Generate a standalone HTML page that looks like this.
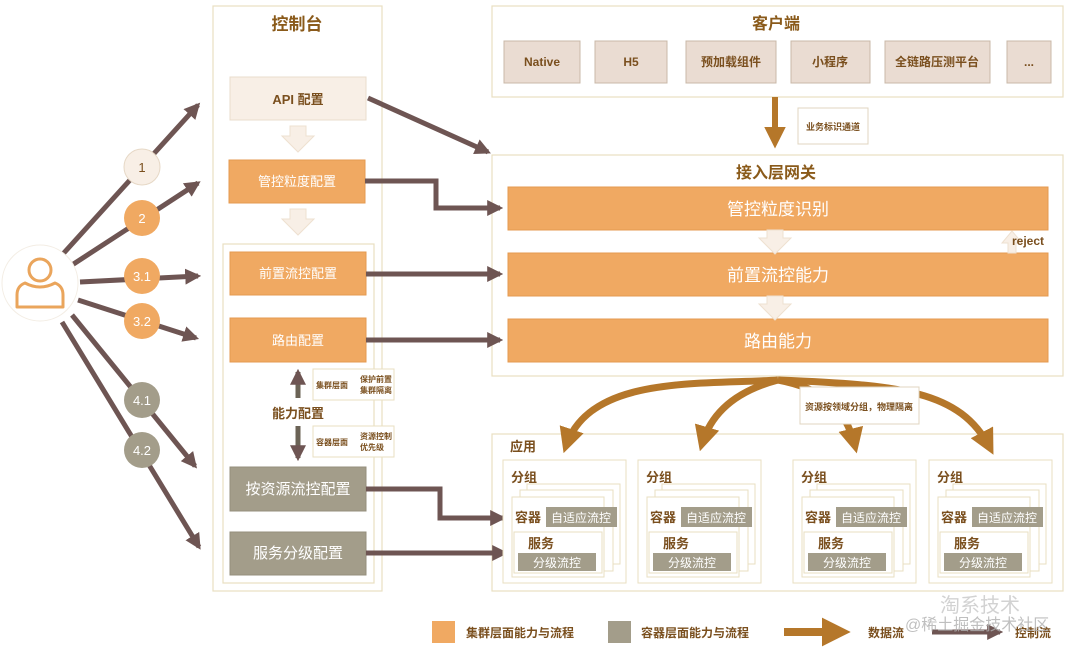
<!DOCTYPE html>
<html><head><meta charset="utf-8"><style>
html,body{margin:0;padding:0;background:#fff;}
svg{display:block;font-family:"Liberation Sans","Noto Sans CJK SC",sans-serif;}
</style></head><body>
<svg width="1080" height="652" viewBox="0 0 1080 652" xmlns="http://www.w3.org/2000/svg">
<defs>
<marker id="ab" viewBox="0 0 10 10" refX="8" refY="5" markerWidth="3.2" markerHeight="3.2" orient="auto"><path d="M0,0 L10,5 L0,10 Z" fill="#6e5553"/></marker>
<marker id="ad" viewBox="0 0 10 10" refX="7" refY="5" markerWidth="3.6" markerHeight="3.6" orient="auto"><path d="M0,0 L10,5 L0,10 Z" fill="#b5772a"/></marker>
</defs>
<g fill="none" stroke="#e8dfc2" stroke-width="1.2">
<rect x="213" y="6" width="169" height="585"/>
<rect x="223" y="244" width="151" height="339"/>
<rect x="492" y="6" width="571" height="91"/>
<rect x="492" y="155" width="571" height="221"/>
<rect x="492" y="434" width="571" height="157"/>
</g>
<g font-weight="bold" fill="#8a5a1a" text-anchor="middle">
<text x="297" y="30" font-size="17">控制台</text>
<text x="776" y="29" font-size="16">客户端</text>
<text x="776" y="178" font-size="16">接入层网关</text>
</g>
<g fill="#eadcd2" stroke="#c9b8a8">
<rect x="504" y="41" width="76" height="42"/><rect x="595" y="41" width="72" height="42"/><rect x="686" y="41" width="90" height="42"/><rect x="791" y="41" width="79" height="42"/><rect x="885" y="41" width="105" height="42"/><rect x="1007" y="41" width="44" height="42"/>
</g>
<g font-size="12" font-weight="bold" fill="#7a4f1e" text-anchor="middle">
<text x="542" y="66">Native</text><text x="631" y="66">H5</text><text x="731" y="66">预加载组件</text><text x="830" y="66">小程序</text><text x="937" y="66">全链路压测平台</text><text x="1029" y="66">...</text>
</g>
<line x1="775" y1="97" x2="775" y2="142" stroke="#b5772a" stroke-width="6" marker-end="url(#ad)"/>
<rect x="798" y="108" width="70" height="36" fill="#fff" stroke="#e0d6c0"/>
<text x="833" y="130" font-size="9" fill="#7a4f1e" text-anchor="middle" font-weight="bold">业务标识通道</text>
<g fill="#f0a962" stroke="#e49a50">
<rect x="508" y="187" width="540" height="43"/><rect x="508" y="253" width="540" height="43"/><rect x="508" y="319" width="540" height="43"/>
</g>
<g fill="#f8efe6" stroke="#eee0d0">
<path d="M767,230 h16 v8 h8 l-16,16 l-16,-16 h8 z"/>
<path d="M767,296 h16 v8 h8 l-16,16 l-16,-16 h8 z"/>
<path d="M1008,253 v-10 h-6 l10,-12 l10,12 h-6 v10 z"/>
</g>
<text x="1028" y="245" font-size="12" font-weight="bold" fill="#7a4f1e" text-anchor="middle">reject</text>
<g font-size="17" fill="#fff" text-anchor="middle">
<text x="778" y="215">管控粒度识别</text><text x="778" y="281">前置流控能力</text><text x="778" y="347">路由能力</text>
</g>
<rect x="230" y="77" width="136" height="43" fill="#f8efe6" stroke="#eadccc"/>
<text x="298" y="104" font-size="13" font-weight="bold" fill="#7a4f1e" text-anchor="middle">API 配置</text>
<g fill="#f8efe6" stroke="#eee0d0">
<path d="M290,126 h16 v10 h8 l-16,16 l-16,-16 h8 z"/>
<path d="M290,209 h16 v10 h8 l-16,16 l-16,-16 h8 z"/>
</g>
<g fill="#f0a962" stroke="#e49a50">
<rect x="229" y="160" width="136" height="43"/><rect x="230" y="252" width="136" height="43"/><rect x="230" y="318" width="136" height="44"/>
</g>
<g fill="#a39d8a" stroke="#958f7c">
<rect x="230" y="467" width="136" height="44"/><rect x="230" y="532" width="136" height="43"/>
</g>
<g font-size="13" fill="#fff" text-anchor="middle">
<text x="297" y="186">管控粒度配置</text><text x="298" y="278">前置流控配置</text><text x="298" y="345">路由配置</text>
<text x="298" y="494" font-size="15">按资源流控配置</text><text x="298" y="558" font-size="15">服务分级配置</text>
</g>
<line x1="298" y1="398" x2="298" y2="372" stroke="#6b6356" stroke-width="5" marker-end="url(#ab)"/>
<line x1="298" y1="426" x2="298" y2="458" stroke="#6b6356" stroke-width="5" marker-end="url(#ab)"/>
<text x="298" y="418" font-size="13" font-weight="bold" fill="#7a4f1e" text-anchor="middle">能力配置</text>
<rect x="313" y="369" width="81" height="31" fill="#fff" stroke="#e8dfc2"/>
<rect x="313" y="426" width="81" height="31" fill="#fff" stroke="#e8dfc2"/>
<g font-size="8" font-weight="bold" fill="#7a4f1e">
<text x="316" y="388">集群层面</text><text x="360" y="382">保护前置</text><text x="360" y="393">集群隔离</text>
<text x="316" y="445">容器层面</text><text x="360" y="439">资源控制</text><text x="360" y="450">优先级</text>
</g>
<g fill="none" stroke="#6e5553" stroke-width="5" marker-end="url(#ab)">
<line x1="368" y1="98" x2="488" y2="152"/>
<path d="M365,181 H436 V208 H500"/>
<line x1="366" y1="274" x2="500" y2="274"/>
<line x1="366" y1="340" x2="500" y2="340"/>
<path d="M366,489 H440 V518 H503"/>
<line x1="366" y1="553" x2="505" y2="553"/>
<line x1="62" y1="255" x2="198" y2="105"/>
<line x1="72" y1="265" x2="198" y2="183"/>
<line x1="80" y1="282" x2="198" y2="276"/>
<line x1="78" y1="300" x2="196" y2="338"/>
<line x1="72" y1="315" x2="195" y2="466"/>
<line x1="62" y1="322" x2="199" y2="547"/>
</g>
<circle cx="40" cy="283" r="38" fill="#fff" stroke="#f3ede4"/>
<circle cx="40" cy="270" r="11" fill="none" stroke="#eaa55c" stroke-width="3"/>
<path d="M25,283 q15,8 30,0 q8,3 8,12 v12 h-46 v-12 q0,-9 8,-12 z" fill="none" stroke="#eaa55c" stroke-width="3" stroke-linejoin="round"/>
<g font-size="13" text-anchor="middle">
<circle cx="142" cy="167" r="18" fill="#f8efe6" stroke="#e6d8c6"/><text x="142" y="172" fill="#7a4f1e">1</text>
<circle cx="142" cy="218" r="18" fill="#f0a962"/><text x="142" y="223" fill="#fff">2</text>
<circle cx="142" cy="276" r="18" fill="#f0a962"/><text x="142" y="281" fill="#fff">3.1</text>
<circle cx="142" cy="321" r="18" fill="#f0a962"/><text x="142" y="326" fill="#fff">3.2</text>
<circle cx="142" cy="400" r="18" fill="#a39d8a"/><text x="142" y="405" fill="#fff">4.1</text>
<circle cx="142" cy="450" r="18" fill="#a39d8a"/><text x="142" y="455" fill="#fff">4.2</text>
</g>
<text x="510" y="451" font-size="13" font-weight="bold" fill="#7a4f1e">应用</text>
<g id="grp">
<rect x="503" y="460" width="123" height="123" fill="#fff" stroke="#e8dfc2"/>
<text x="511" y="482" font-size="13" font-weight="bold" fill="#7a4f1e">分组</text>
<rect x="527" y="484" width="93" height="80" fill="#fff" stroke="#e8dfc2"/>
<rect x="520" y="490" width="93" height="81" fill="#fff" stroke="#e8dfc2"/>
<rect x="512" y="497" width="92" height="80" fill="#fff" stroke="#e8dfc2"/>
<text x="515" y="522" font-size="13" font-weight="bold" fill="#7a4f1e">容器</text>
<rect x="546" y="507" width="71" height="20" fill="#a39d8a"/>
<text x="581" y="522" font-size="12" fill="#fff" text-anchor="middle">自适应流控</text>
<rect x="514" y="532" width="88" height="41" fill="#fff" stroke="#e8dfc2"/>
<text x="528" y="548" font-size="13" font-weight="bold" fill="#7a4f1e">服务</text>
<rect x="518" y="553" width="78" height="18" fill="#a39d8a"/>
<text x="557" y="567" font-size="12" fill="#fff" text-anchor="middle">分级流控</text>
</g>
<use href="#grp" x="135"/><use href="#grp" x="290"/><use href="#grp" x="426"/>
<g fill="none" stroke="#b5772a" stroke-width="7" marker-end="url(#ad)">
<path d="M778,380 C700,385 590,375 566,446"/>
<path d="M778,380 C740,390 712,410 702,444"/>
<path d="M778,380 C820,388 845,405 855,446"/>
<path d="M778,380 C900,385 960,390 990,448"/>
</g>
<rect x="800" y="387" width="119" height="37" fill="#fff" stroke="#e0d6c0"/>
<text x="859" y="410" font-size="9" font-weight="bold" fill="#7a4f1e" text-anchor="middle">资源按领域分组，物理隔离</text>
<rect x="432" y="621" width="23" height="22" fill="#f0a962"/>
<text x="466" y="637" font-size="12" font-weight="bold" fill="#7a4f1e">集群层面能力与流程</text>
<rect x="608" y="621" width="23" height="22" fill="#a39d8a"/>
<text x="641" y="637" font-size="12" font-weight="bold" fill="#7a4f1e">容器层面能力与流程</text>
<line x1="784" y1="632" x2="842" y2="632" stroke="#b5772a" stroke-width="8" marker-end="url(#ad)"/>
<text x="868" y="637" font-size="12" font-weight="bold" fill="#7a4f1e">数据流</text>
<line x1="932" y1="632" x2="1000" y2="632" stroke="#6e5553" stroke-width="5" marker-end="url(#ab)"/>
<text x="1015" y="637" font-size="12" font-weight="bold" fill="#7a4f1e">控制流</text>
<text x="940" y="612" font-size="20" fill="#c8c8c8" opacity="0.8">淘系技术</text>
<text x="905" y="630" font-size="16" fill="#b0b0b0" opacity="0.8">@稀土掘金技术社区</text>
</svg>
</body></html>
